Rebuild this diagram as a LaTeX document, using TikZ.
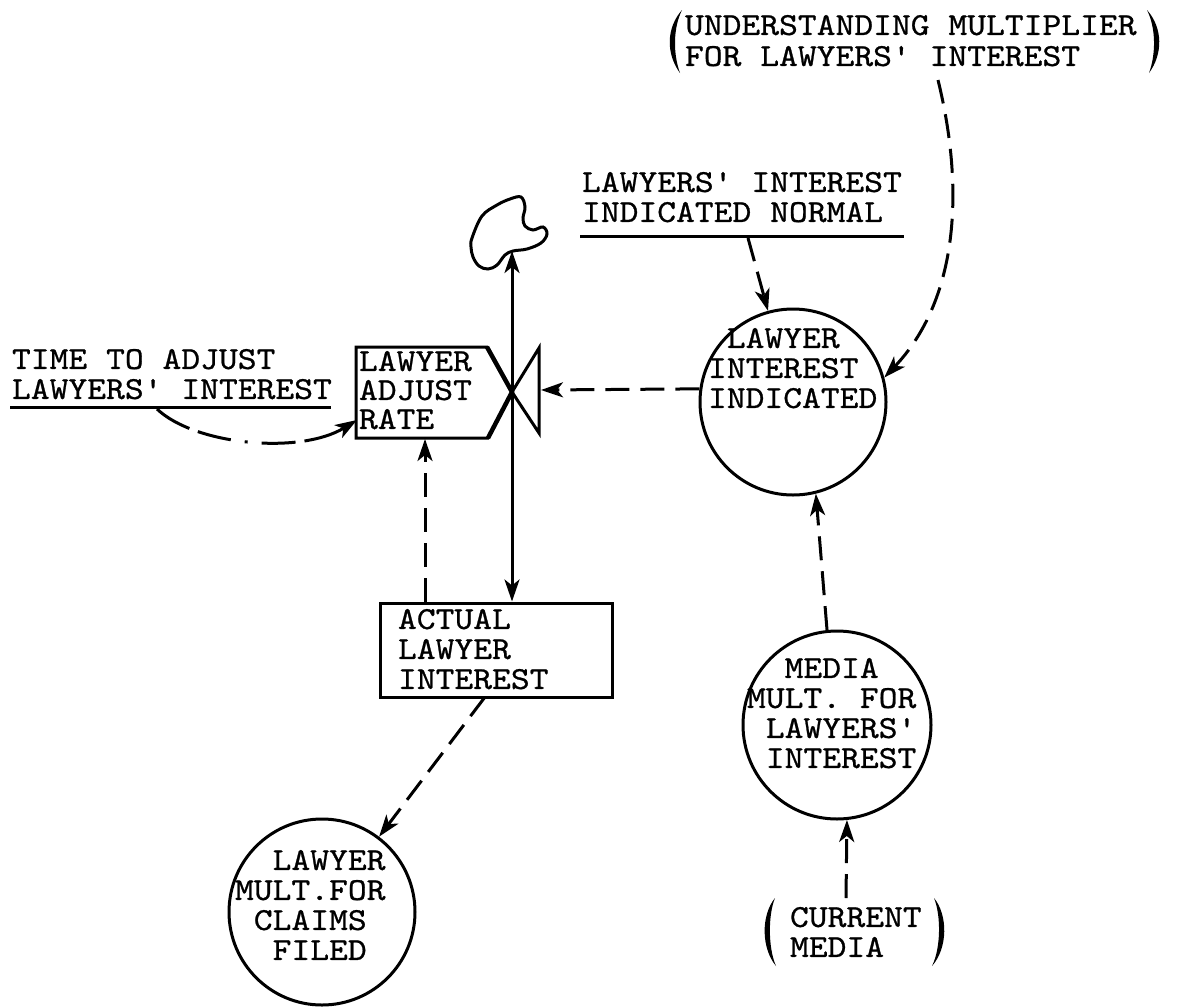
\documentclass[tikz,border=0pt]{standalone}
\usepackage{fontspec}
\setmonofont[FakeStretch=1.12,FakeBold=0.8]{lmmono10-regular.otf}
\usetikzlibrary{arrows.meta}
\begin{document}
\begin{tikzpicture}[x=1pt,y=-1pt,
 txt/.style={font=\ttfamily\fontsize{32}{30}\selectfont, inner sep=0pt, outer sep=0pt, align=left, anchor=north west},
 solidln/.style={line width=3pt},
 dsh/.style={line width=3pt, dash pattern=on 24pt off 11pt},
 arrowend/.style={-{Stealth[length=22pt,width=15pt,inset=6pt]}},
 circ/.style={draw, circle, line width=3pt, minimum size=186pt, inner sep=0pt},
 parenfill/.style={fill=black}
]
\useasboundingbox (0,0) rectangle (1178,1007);

% --- time to adjust label
\node[txt] (timeadj) at (12,349) {TIME TO ADJUST\\LAWYERS' INTEREST};
\draw[solidln] (10,407) -- (331,407);
\coordinate (timeadjS) at (157,409);

% --- rate (valve)
\coordinate (valve) at (512,392);
\draw[solidln] (356,347) -- (487,347) -- (valve) -- (488,438) -- (356,438) -- cycle;
\draw[line width=4.5pt] (487,347) -- (valve) -- (488,438);
\draw[solidln] (valve) -- (539,348) -- (539,433) -- cycle;
\node[txt, font=\ttfamily\fontsize{32}{29}\selectfont] (rate) at (359,351) {LAWYER\\ADJUST\\RATE};
\coordinate (rateW) at (357,420);
\coordinate (rateS) at (425,439);
\coordinate (valveE) at (541,390);

% --- cloud
\draw[line width=3pt] plot[smooth cycle, tension=0.6] coordinates {
 (472,238) (482,216) (497,205) (510,199) (521,197) (525,207) (523,218)
 (525,226) (533,230) (543,227) (547,234) (541,243) (527,249) (513,251)
 (505,255) (497,265) (488,269) (479,266) (473,257) (471,247)};
\coordinate (cloudS) at (512,251);

% --- actual lawyer interest (level)
\node[draw, line width=3pt, minimum width=232pt, minimum height=94pt, inner sep=0pt] (actual) at (496,650) {};
\node[txt] (actualtxt) at (398,609) {ACTUAL\\LAWYER\\INTEREST};
\coordinate (actualS) at (485,697);

\draw[line width=3pt, {Stealth[length=22pt,width=15pt,inset=6pt]}-{Stealth[length=22pt,width=15pt,inset=6pt]}] (actual.north -| valve) -- (cloudS);

% --- lawyer mult for claims filed
\node[circ] (claims) at (322,912) {};
\node[txt] (claimstxt) at (235,850) {\phantom{XX}LAWYER\\MULT.FOR\\\phantom{X}CLAIMS\\\phantom{XX}FILED};

% --- lawyer interest indicated
\node[circ] (lii) at (793,402) {};
\node[txt] (liitxt) at (708,328) {\phantom{X}LAWYER\\INTEREST\\INDICATED};

% --- normal
\node[txt] (normal) at (582,172) {LAWYERS' INTEREST\\INDICATED NORMAL};
\draw[solidln] (580,236) -- (904,236);
\coordinate (normalS) at (748,238);

% --- understanding multiplier
\node[txt, font=\ttfamily\fontsize{32}{31}\selectfont] (und) at (685,15) {UNDERSTANDING MULTIPLIER\\FOR LAWYERS' INTEREST};
\fill[parenfill] (682,10) .. controls (666,28) and (666,54) .. (680,73) .. controls (673,54) and (673,28) .. (682,10);
\fill[parenfill] (1147,10) .. controls (1163,28) and (1163,54) .. (1149,73) .. controls (1156,54) and (1156,28) .. (1147,10);
\coordinate (undS) at (938,80);

% --- media mult
\node[circ, minimum size=188pt] (media) at (837,725) {};
\node[txt] (mediatxt) at (747,658) {\phantom{XX}MEDIA\\MULT. FOR\\\phantom{X}LAWYERS'\\\phantom{X}INTEREST};

% --- current media
\node[txt] (current) at (790,907) {CURRENT\\MEDIA};
\fill[parenfill] (775,898) .. controls (761,915) and (761,948) .. (776,966) .. controls (768,948) and (768,915) .. (775,898);
\fill[parenfill] (934,898) .. controls (948,915) and (948,948) .. (932,966) .. controls (941,948) and (941,915) .. (934,898);
\coordinate (currentN) at (846,898);

% --- connectors
\draw[line width=3pt, arrowend, dash pattern=on 38pt off 9pt on 34pt off 14pt on 3pt off 14pt on 34pt off 9pt on 60pt off 200pt]
  (timeadjS) .. controls (195,445) and (300,455) .. (rateW);
\draw[dsh, arrowend] (actual.north -| rateS) -- (rateS);
\draw[dsh, arrowend] (actualS) -- (claims);
\draw[dsh, arrowend] (lii.172) -- (valveE);
\draw[dsh, arrowend] (normalS) -- (lii);
\draw[dsh, arrowend] (undS) .. controls (965,190) and (958,300) .. (lii.15);
\draw[dsh, arrowend] (media.96) -- (lii.284);
\draw[dsh, arrowend] (currentN) -- (media.276);
\end{tikzpicture}
\end{document}
